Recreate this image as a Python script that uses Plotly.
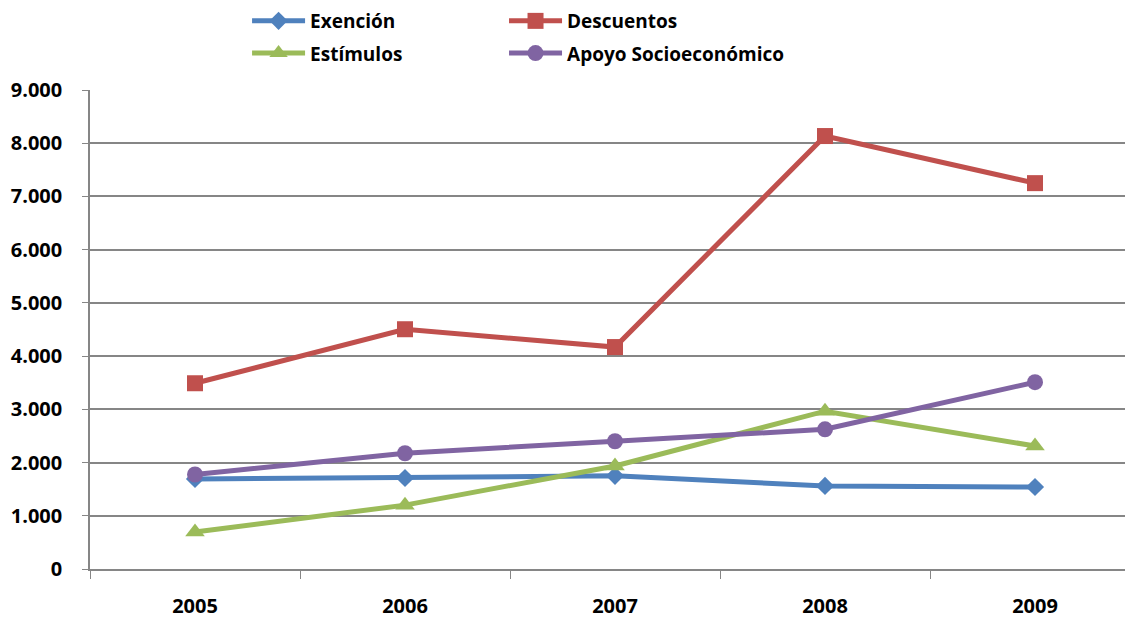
import plotly.graph_objects as go

years = ["2005", "2006", "2007", "2008", "2009"]
exencion = [1692, 1710, 1750, 1560, 1541]
descuentos = [3490, 4505, 4170, 8135, 7250]
estimulos = [695, 1200, 1935, 2965, 2310]
apoyo = [1775, 2175, 2400, 2625, 3510]

# legend slot for each series: (legend id, x in container, y in container)
series = [
    ("Exención", exencion, "#4F81BD", "diamond", 14, "legend", 0.211, 0.979),
    ("Descuentos", descuentos, "#C0504D", "square", 16, "legend2", 0.4378, 0.979),
    ("Estímulos", estimulos, "#9BBB59", "triangle-up", 17, "legend3", 0.211, 0.927),
    ("Apoyo Socioeconómico", apoyo, "#8064A2", "circle", 16, "legend4", 0.4378, 0.927),
]

font = "Open Sans"
fig = go.Figure()

legends = {}
for name, vals, color, symbol, size, leg, lx, ly in series:
    fig.add_trace(go.Scatter(
        x=years, y=vals, name=name, mode="lines+markers",
        line=dict(color=color, width=5),
        marker=dict(symbol=symbol, size=size, color=color),
        legend=leg, showlegend=True,
    ))
    legends[leg] = dict(
        orientation="h", xref="container", yref="container",
        x=lx, y=ly, xanchor="left", yanchor="middle",
        itemwidth=53, bgcolor="rgba(0,0,0,0)",
        font=dict(family=font, size=19, weight="bold"),
    )

fig.update_layout(
    width=1133, height=620,
    margin=dict(l=82, r=1, t=82, b=59),
    plot_bgcolor="white", paper_bgcolor="white",
    separators=",.", showlegend=True,
    font=dict(family=font, size=20, color="black"),
    xaxis=dict(
        type="category", range=[-0.5, 4.5],
        showgrid=False, showline=True, linecolor="#868686", linewidth=1.5,
        ticks="outside", tickson="boundaries", ticklen=8, tickcolor="#868686",
        tickfont=dict(family=font, size=20, weight="bold"),
        ticklabelstandoff=18,
    ),
    yaxis=dict(
        range=[0, 9000], dtick=1000, tickformat=",d",
        showgrid=True, gridcolor="#868686", gridwidth=1.5,
        showline=True, linecolor="#868686", linewidth=1.5,
        ticks="outside", ticklen=6, tickcolor="#868686",
        tickfont=dict(family=font, size=20, weight="bold"),
        ticklabelstandoff=16, zeroline=False,
    ),
    **legends,
)

fig.write_html("out.html")
